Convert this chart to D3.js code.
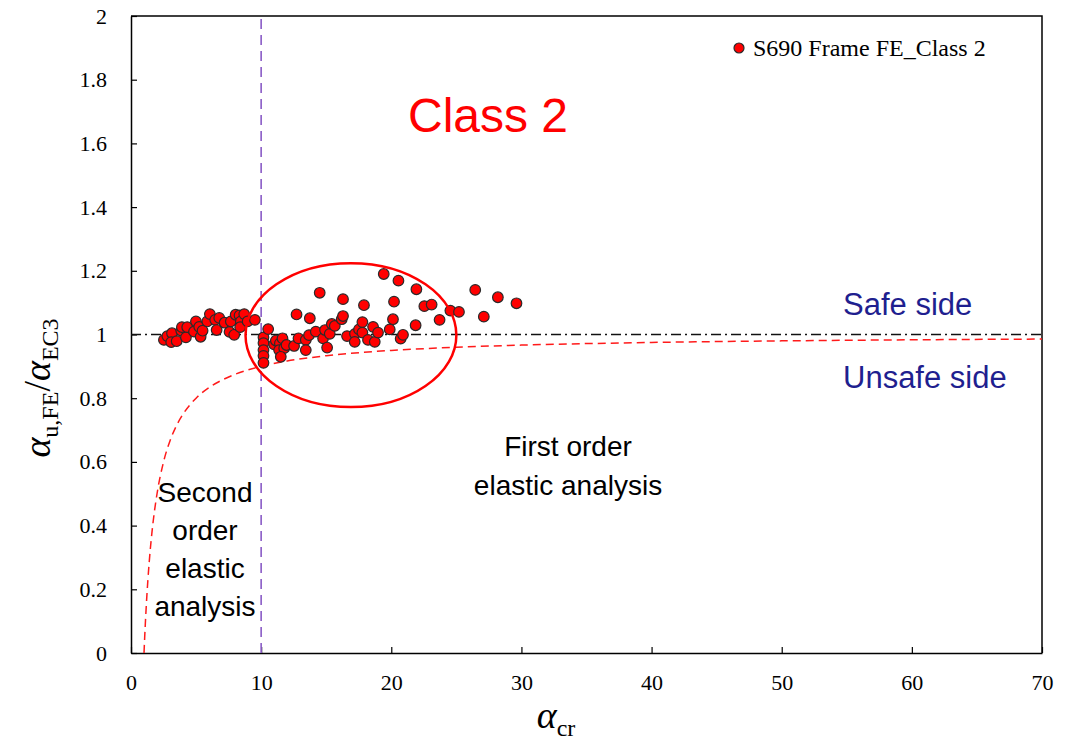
<!DOCTYPE html>
<html>
<head>
<meta charset="utf-8">
<script src="https://cdn.jsdelivr.net/npm/d3@7"></script>
<style>
  body { margin: 0; background: #fff; }
  svg { display: block; }
</style>
</head>
<body>
<div id="vis"></div>
<script>

// data
const ALPHA_CR = [2.53, 2.79, 3.15, 3.09, 3.51, 3.86, 3.91, 4.22, 4.32, 4.84,
  4.99, 5.24, 5.35, 5.50, 5.86, 6.06, 6.47, 6.58, 6.78, 7.19,
  7.57, 7.67, 8.04, 7.93, 8.34, 8.44, 8.39, 8.70, 8.96, 9.52,
  10.18, 10.18, 10.18, 10.18, 10.18, 10.54,
  10.99, 11.13, 11.44, 11.64, 11.38, 11.77, 11.51, 11.95, 12.53, 12.87,
  12.72, 13.43, 13.43, 13.74, 13.68, 14.20, 14.50, 14.76, 14.91, 15.07,
  15.27, 15.43, 15.66, 16.19, 16.29, 16.29, 16.60, 17.21, 17.19, 17.52,
  17.78, 17.78, 17.90, 18.21, 18.60, 18.73, 18.98, 19.42, 19.88, 20.13,
  20.21, 20.55, 20.72, 20.90, 21.93, 21.87, 22.54, 23.10, 23.71, 24.54,
  25.20, 26.45, 27.11, 28.19, 29.62];

const RATIO = [0.983, 0.995, 1.004, 0.976, 0.979, 1.012, 1.023, 0.991, 1.023, 1.009,
  1.041, 1.024, 0.993, 1.012, 1.041, 1.064, 1.046, 1.014, 1.052, 1.037,
  1.008, 1.041, 1.062, 0.999, 1.060, 1.041, 1.023, 1.064, 1.041, 1.046,
  0.991, 0.973, 0.951, 0.933, 0.911, 1.017,
  0.969, 0.981, 0.972, 0.988, 0.951, 0.957, 0.930, 0.967, 0.964, 0.988,
  1.063, 0.983, 0.951, 1.051, 0.998, 1.009, 1.131, 0.988, 1.014, 0.959,
  1.002, 1.033, 1.027, 1.048, 1.058, 1.111, 0.995, 1.002, 0.977, 1.016,
  1.006, 1.039, 1.092, 0.983, 1.024, 0.977, 1.006, 1.190, 1.016, 1.048,
  1.103, 1.169, 0.987, 0.999, 1.142, 1.029, 1.089, 1.094, 1.046, 1.075,
  1.071, 1.140, 1.056, 1.117, 1.098];

// limit curve 1 - 1/alpha_cr, sampled at these alpha_cr
const CURVE_X = [1, 1.05, 1.1, 1.2, 1.3, 1.4, 1.6, 1.8, 2, 2.5, 3, 3.5, 4, 5, 6, 7, 8,
  10, 12, 15, 20, 25, 30, 40, 50, 60, 70];

const X_TICKS = [0, 10, 20, 30, 40, 50, 60, 70];
const Y_TICKS = [0, 0.2, 0.4, 0.6, 0.8, 1, 1.2, 1.4, 1.6, 1.8, 2];
const Y_TICK_LABELS = ["0", "0.2", "0.4", "0.6", "0.8", "1", "1.2", "1.4", "1.6", "1.8", "2"];

const SERIES_NAME = "S690 Frame FE_Class 2";
const ALPHA_LIMIT = 10;

// ellipse round the cluster: centre and half axes in data units
const ELLIPSE = {cx: 16.9, cy: 0.998, rx: 8.1, ry: 0.226};

const FRAME_WIDTH = 1070;
const FRAME_HEIGHT = 742;
const MARGINS = {left: 131, right: 28, top: 16, bottom: 89};
const VIS_WIDTH = FRAME_WIDTH - MARGINS.left - MARGINS.right;
const VIS_HEIGHT = FRAME_HEIGHT - MARGINS.top - MARGINS.bottom;

const SERIF = "'Liberation Serif', 'Times New Roman', serif";
const SANS = "'Liberation Sans', Arial, sans-serif";

const FRAME = d3.select("#vis")
                .append("svg")
                    .attr("width", FRAME_WIDTH)
                    .attr("height", FRAME_HEIGHT);

const X_SCALE = d3.scaleLinear().domain([0, 70]).range([0, VIS_WIDTH]);
const Y_SCALE = d3.scaleLinear().domain([0, 2]).range([VIS_HEIGHT, 0]);

const PLOT = FRAME.append("g")
                .attr("transform", "translate(" + MARGINS.left + "," + MARGINS.top + ")");

// clip so the limit curve stays in the box
PLOT.append("clipPath")
    .attr("id", "clip")
    .append("rect")
        .attr("width", VIS_WIDTH)
        .attr("height", VIS_HEIGHT);

// axes, ticks pointing inward
const X_AXIS = PLOT.append("g")
    .attr("transform", "translate(0," + VIS_HEIGHT + ")")
    .call(d3.axisBottom(X_SCALE).tickValues(X_TICKS)
            .tickSizeInner(-6).tickSizeOuter(0).tickPadding(21));

const Y_AXIS = PLOT.append("g")
    .call(d3.axisLeft(Y_SCALE).tickValues(Y_TICKS)
            .tickFormat((d, i) => Y_TICK_LABELS[i])
            .tickSizeInner(-6).tickSizeOuter(0).tickPadding(24));

[X_AXIS, Y_AXIS].forEach((ax) => {
    ax.selectAll("text")
        .attr("font-family", SERIF)
        .attr("font-size", "22px")
        .attr("fill", "#000");
    ax.selectAll("line").attr("stroke", "#000").attr("stroke-width", 1.2);
    ax.select(".domain").attr("stroke", "#000").attr("stroke-width", 1.5);
});

// top and right border
PLOT.append("path")
    .attr("d", "M0,0H" + VIS_WIDTH + "V" + VIS_HEIGHT)
    .attr("fill", "none")
    .attr("stroke", "#000")
    .attr("stroke-width", 1.5);

// alpha_u/alpha_EC3 = 1
PLOT.append("line")
    .attr("x1", X_SCALE(0))
    .attr("x2", X_SCALE(70))
    .attr("y1", Y_SCALE(1))
    .attr("y2", Y_SCALE(1))
    .attr("stroke", "#111")
    .attr("stroke-width", 1.3)
    .attr("stroke-dasharray", "10,4,2,4");

// alpha_cr = 10
PLOT.append("line")
    .attr("x1", X_SCALE(ALPHA_LIMIT))
    .attr("x2", X_SCALE(ALPHA_LIMIT))
    .attr("y1", Y_SCALE(0))
    .attr("y2", Y_SCALE(2))
    .attr("stroke", "#8a5cc6")
    .attr("stroke-width", 1.6)
    .attr("stroke-dasharray", "10,6");

// limit curve
const CURVE = d3.line()
    .x((d) => X_SCALE(d))
    .y((d) => Y_SCALE(1 - 1 / d))
    .curve(d3.curveMonotoneX);

PLOT.append("path")
    .datum(CURVE_X)
    .attr("d", CURVE)
    .attr("clip-path", "url(#clip)")
    .attr("fill", "none")
    .attr("stroke", "#ff1a1a")
    .attr("stroke-width", 1.5)
    .attr("stroke-dasharray", "8,5");

// points
PLOT.selectAll(".point")
    .data(ALPHA_CR)
    .enter()
    .append("circle")
        .attr("class", "point")
        .attr("cx", (d) => X_SCALE(d))
        .attr("cy", (d, i) => Y_SCALE(RATIO[i]))
        .attr("r", 5.3)
        .attr("fill", "#ff0000")
        .attr("stroke", "#2a2a2a")
        .attr("stroke-width", 1.2);

// ellipse
PLOT.append("ellipse")
    .attr("cx", X_SCALE(ELLIPSE.cx))
    .attr("cy", Y_SCALE(ELLIPSE.cy))
    .attr("rx", X_SCALE(ELLIPSE.rx) - X_SCALE(0))
    .attr("ry", Y_SCALE(0) - Y_SCALE(ELLIPSE.ry))
    .attr("fill", "none")
    .attr("stroke", "#ff0000")
    .attr("stroke-width", 2.5);

// legend
FRAME.append("circle")
    .attr("cx", 739)
    .attr("cy", 48)
    .attr("r", 5)
    .attr("fill", "#ff0000")
    .attr("stroke", "#2a2a2a")
    .attr("stroke-width", 1.2);

FRAME.append("text")
    .attr("x", 753)
    .attr("y", 56)
    .attr("font-family", SERIF)
    .attr("font-size", "24px")
    .text(SERIES_NAME);

// annotations
function label(x, y, str, size, color, anchor) {
    FRAME.append("text")
        .attr("x", x)
        .attr("y", y)
        .attr("font-family", SANS)
        .attr("font-size", size)
        .attr("fill", color)
        .attr("text-anchor", anchor)
        .text(str);
}

label(488, 132, "Class 2", "48px", "#ff0000", "middle");
label(843, 315, "Safe side", "31px", "#1f1f8f", "start");
label(843, 388, "Unsafe side", "31px", "#1f1f8f", "start");
label(568, 456, "First order", "28px", "#000", "middle");
label(568, 495, "elastic analysis", "28px", "#000", "middle");
label(205, 502, "Second", "28px", "#000", "middle");
label(205, 540, "order", "28px", "#000", "middle");
label(205, 578, "elastic", "28px", "#000", "middle");
label(205, 616, "analysis", "28px", "#000", "middle");

// axis titles
const X_TITLE = FRAME.append("text")
    .attr("x", 556)
    .attr("y", 728)
    .attr("text-anchor", "middle")
    .attr("font-family", SERIF);
X_TITLE.append("tspan").attr("font-style", "italic").attr("font-size", "38px").text("α");
X_TITLE.append("tspan").attr("font-size", "24px").attr("dy", 8).text("cr");

const Y_TITLE = FRAME.append("text")
    .attr("transform", "translate(50,388) rotate(-90)")
    .attr("text-anchor", "middle")
    .attr("font-family", SERIF);
Y_TITLE.append("tspan").attr("font-style", "italic").attr("font-size", "38px").text("α");
Y_TITLE.append("tspan").attr("font-size", "24px").attr("dy", 8).text("u,FE");
Y_TITLE.append("tspan").attr("font-size", "38px").attr("dy", -8).text("/");
Y_TITLE.append("tspan").attr("font-style", "italic").attr("font-size", "38px").text("α");
Y_TITLE.append("tspan").attr("font-size", "24px").attr("dy", 8).text("EC3");

</script>
</body>
</html>
